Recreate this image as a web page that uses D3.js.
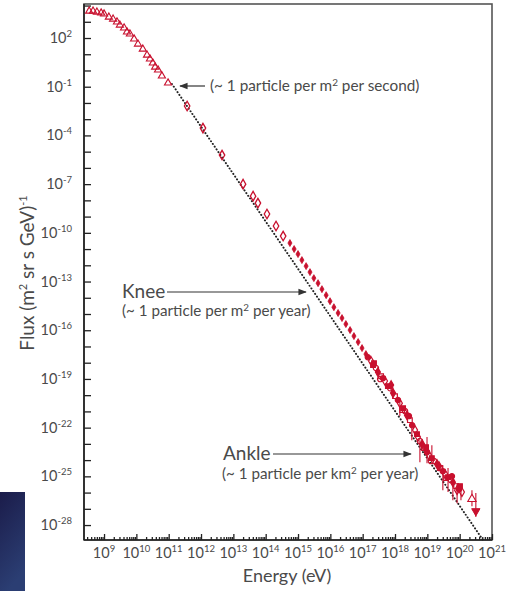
<!DOCTYPE html>
<html lang="en">
<head>
<meta charset="UTF-8">
<title>Cosmic Ray Flux</title>
<script src="https://d3js.org/d3.v7.min.js"></script>
<style>
    body { margin: 0; background: #fff; }
    svg { display: block; font-family: Lato, 'Noto Sans', sans-serif; }
    .lbl { fill: #4a4a4a; }
    .axis line { stroke: #222; stroke-width: 1.3px; }
    .axis path { display: none; }
</style>
</head>
<body>
<div id="chart"></div>
<script>
// axis ranges (eV, flux)
const xDomain = [2.4e8, 1e21];
const yDomain = [1.245e4, 1.2e-29];
const xLabelExp = [9, 10, 11, 12, 13, 14, 15, 16, 17, 18, 19, 20, 21];
const yLabelExp = [2, -1, -4, -7, -10, -13, -16, -19, -22, -25, -28];

// all data as log10 values
const triLogE = [8.54, 8.66, 8.78, 8.91, 9.00, 9.15, 9.28, 9.40, 9.49, 9.62, 9.71, 9.80, 9.93, 10.05, 10.20, 10.33, 10.42, 10.51, 10.58, 10.67, 10.79, 10.98];
const triLogF = [3.66, 3.66, 3.60, 3.54, 3.48, 3.29, 3.17, 2.99, 2.80, 2.62, 2.37, 2.25, 1.94, 1.63, 1.32, 0.95, 0.71, 0.46, 0.21, 0.03, -0.34, -0.77];

const diaLogE = [11.57, 12.06, 12.65, 13.30, 13.61, 13.76, 14.04, 14.32, 14.54];
const diaLogF = [-2.19, -3.55, -5.21, -7.00, -7.74, -8.17, -8.84, -9.58, -10.20];

const kneeLogE = [14.75, 14.88, 15.00, 15.12, 15.25, 15.37, 15.49, 15.62, 15.74, 15.87, 15.99, 16.11, 16.24, 16.36, 16.48, 16.61, 16.73, 16.86, 16.98, 17.10];
const kneeLogF = [-10.63, -11.00, -11.31, -11.68, -12.05, -12.42, -12.79, -13.10, -13.47, -13.84, -14.21, -14.58, -14.94, -15.25, -15.62, -15.99, -16.36, -16.73, -17.10, -17.47];

const ankleLogE = [17.16, 17.26, 17.32, 17.41, 17.47, 17.57, 17.63, 17.69, 17.78, 17.85, 17.94, 18.00, 18.09, 18.15, 18.25, 18.31, 18.37, 18.46, 18.53, 18.62, 18.68, 18.77, 18.84, 18.90, 18.99, 19.05, 19.14, 19.21, 19.30, 19.39, 19.48, 19.55, 19.64, 19.73, 19.79, 19.89, 19.98, 20.07,
                   17.35, 17.54, 17.88, 18.22, 18.43, 18.71, 18.96, 19.11, 19.36, 19.58, 19.76, 19.92, 20.01];
const ankleLogF = [-17.66, -17.90, -18.15, -18.33, -18.58, -18.83, -18.95, -19.13, -19.44, -19.57, -19.87, -20.06, -20.30, -20.49, -20.80, -20.98, -21.23, -21.54, -21.85, -22.15, -22.40, -22.83, -23.02, -23.26, -23.51, -23.69, -23.88, -24.06, -24.25, -24.49, -24.68, -24.86, -25.05, -25.23, -25.36, -25.60, -25.79, -25.97,
                   -18.03, -19.01, -19.38, -20.92, -21.29, -22.58, -23.20, -24.06, -24.37, -25.11, -24.99, -25.85, -25.60];

// error bars: energy, low, high
const errLogE = [18.15, 18.52, 18.77, 18.99, 19.14, 19.48, 19.64, 19.79, 19.92, 20.04];
const errLogLo = [-21.29, -22.77, -24.13, -24.19, -24.12, -25.85, -25.97, -26.47, -26.65, -26.47];
const errLogHi = [-20.30, -21.84, -22.77, -22.58, -23.08, -24.31, -24.49, -25.23, -25.48, -25.66];

// last two points
const endLogE = [20.38, 20.50];
const endLogF = [-26.40, -27.14];
const endLogLo = [-26.84, -27.51];
const endLogHi = [-25.85, -26.03];

// dotted power law
const fitLogE = [11.1, 20.72];
const fitLogF = [-0.83, -28.92];

const width = 506, height = 591;
const mLeft = 84, mRight = 492, mTop = 4, mBottom = 540;
const red = "#c8102e";
const p10 = v => Math.pow(10, v);

const svg = d3.select("#chart").append("svg")
    .attr("width", width).attr("height", height);

const defs = svg.append("defs");
const grad = defs.append("linearGradient").attr("id", "blue")
    .attr("x1", 0).attr("y1", 0).attr("x2", 0.3).attr("y2", 1);
grad.append("stop").attr("offset", 0).attr("stop-color", "#1b1c4a");
grad.append("stop").attr("offset", 1).attr("stop-color", "#2b3e73");
defs.append("marker").attr("id", "head")
    .attr("viewBox", "0 0 10 10").attr("refX", 9).attr("refY", 5)
    .attr("markerWidth", 7).attr("markerHeight", 7).attr("orient", "auto")
    .append("path").attr("d", "M0,1 L10,5 L0,9 Z").attr("fill", "#333");

svg.append("rect").attr("x", 0).attr("y", 492).attr("width", 25).attr("height", 99)
    .attr("fill", "url(#blue)");

const x = d3.scaleLog().domain(xDomain).range([mLeft, mRight]);
const y = d3.scaleLog().domain(yDomain).range([mTop, mBottom]);

// frame
svg.append("rect").attr("x", mLeft).attr("y", mTop)
    .attr("width", mRight - mLeft).attr("height", mBottom - mTop)
    .attr("fill", "none").attr("stroke", "#555").attr("stroke-width", 1.6);

// y ticks every decade, pointing inward
const yDecades = d3.range(4, -29, -1).map(p10);
svg.append("g").attr("class", "axis").attr("transform", `translate(${mLeft},0)`)
    .call(d3.axisLeft(y).tickValues(yDecades).tickSize(-7).tickFormat(""));

// x ticks: decades plus 2..9 minors
const xMajor = d3.range(9, 22).map(p10);
const xMinor = [];
d3.range(8, 21).forEach(n => d3.range(2, 10).forEach(k => {
    const v = k * p10(n);
    if (v > xDomain[0] && v < xDomain[1]) xMinor.push(v);
}));
svg.append("g").attr("class", "axis").attr("transform", `translate(0,${mBottom})`)
    .call(d3.axisBottom(x).tickValues(xMajor).tickSize(-6).tickFormat(""));
svg.append("g").attr("class", "axis").attr("transform", `translate(0,${mBottom})`)
    .call(d3.axisBottom(x).tickValues(xMinor).tickSize(-3).tickFormat(""));

svg.append("line").attr("x1", mLeft).attr("x2", mLeft).attr("y1", mTop).attr("y2", mBottom)
    .attr("stroke", "#222").attr("stroke-width", 1.6);
svg.append("line").attr("x1", mLeft).attr("x2", mRight).attr("y1", mBottom).attr("y2", mBottom)
    .attr("stroke", "#222").attr("stroke-width", 1.6);

// tick labels with superscripts
function power(sel, e, supSize) {
    sel.append("tspan").text("10");
    sel.append("tspan").attr("dy", -6).attr("font-size", supSize).text(e < 0 ? "-" + (-e) : e);
}
yLabelExp.forEach(e => {
    svg.append("text").attr("class", "lbl").attr("x", 72).attr("y", y(p10(e)) + 5)
        .attr("text-anchor", "end").attr("font-size", 14.5)
        .call(power, e, 9.5);
});
xLabelExp.forEach(e => {
    svg.append("text").attr("class", "lbl").attr("x", x(p10(e))).attr("y", 558)
        .attr("text-anchor", "middle").attr("font-size", 14.5)
        .call(power, e, 9.5);
});

// axis titles
svg.append("text").attr("class", "lbl").attr("x", 287).attr("y", 582)
    .attr("text-anchor", "middle").attr("font-size", 18).text("Energy (eV)");
const yt = svg.append("text").attr("class", "lbl")
    .attr("transform", "translate(34,273) rotate(-90)")
    .attr("text-anchor", "middle").attr("font-size", 19);
yt.append("tspan").text("Flux (m");
yt.append("tspan").attr("dy", -7).attr("font-size", 11).text("2");
yt.append("tspan").attr("dy", 7).text(" sr s GeV)");
yt.append("tspan").attr("dy", -7).attr("font-size", 11).text("-1");

// dotted power law
svg.append("path")
    .datum(fitLogE.map((e, i) => [p10(e), p10(fitLogF[i])]))
    .attr("d", d3.line().x(d => x(d[0])).y(d => y(d[1])))
    .attr("fill", "none").attr("stroke", "#222").attr("stroke-width", 2)
    .attr("stroke-linecap", "round").attr("stroke-dasharray", "0.1 3.2");

// data marks
const sym = (type, size) => d3.symbol().type(type).size(size)();

svg.append("g").selectAll("path")
    .data(triLogE.map((e, i) => [p10(e), p10(triLogF[i])]))
    .join("path")
    .attr("transform", d => `translate(${x(d[0])},${y(d[1])})`)
    .attr("d", sym(d3.symbolTriangle, 22))
    .attr("fill", "none").attr("stroke", red).attr("stroke-width", 1.1);

svg.append("g").selectAll("path")
    .data(diaLogE.map((e, i) => [p10(e), p10(diaLogF[i])]))
    .join("path")
    .attr("transform", d => `translate(${x(d[0])},${y(d[1])})`)
    .attr("d", sym(d3.symbolDiamond, 26))
    .attr("fill", "none").attr("stroke", red).attr("stroke-width", 1.3);

svg.append("g").selectAll("path")
    .data(kneeLogE.map((e, i) => [p10(e), p10(kneeLogF[i])]))
    .join("path")
    .attr("transform", d => `translate(${x(d[0])},${y(d[1])})`)
    .attr("d", sym(d3.symbolDiamond, 14))
    .attr("fill", red).attr("stroke", red).attr("stroke-width", 0.8);

svg.append("g").selectAll("line")
    .data(errLogE.map((e, i) => [p10(e), p10(errLogLo[i]), p10(errLogHi[i])]))
    .join("line")
    .attr("x1", d => x(d[0])).attr("x2", d => x(d[0]))
    .attr("y1", d => y(d[1])).attr("y2", d => y(d[2]))
    .attr("stroke", red).attr("stroke-width", 1.1);

const ankleShapes = [d3.symbolCircle, d3.symbolDiamond, d3.symbolSquare];
svg.append("g").selectAll("path")
    .data(ankleLogE.map((e, i) => [p10(e), p10(ankleLogF[i]), i]))
    .join("path")
    .attr("transform", d => `translate(${x(d[0])},${y(d[1])})`)
    .attr("d", d => sym(ankleShapes[d[2] % 3], 22))
    .attr("fill", d => d[2] % 2 === 0 ? red : "none")
    .attr("stroke", red).attr("stroke-width", 1.2);

svg.append("g").selectAll("line")
    .data(endLogE.map((e, i) => [p10(e), p10(endLogLo[i]), p10(endLogHi[i])]))
    .join("line")
    .attr("x1", d => x(d[0])).attr("x2", d => x(d[0]))
    .attr("y1", d => y(d[1])).attr("y2", d => y(d[2]))
    .attr("stroke", red).attr("stroke-width", 1.1);
svg.append("path")
    .attr("transform", `translate(${x(p10(endLogE[0]))},${y(p10(endLogF[0]))})`)
    .attr("d", sym(d3.symbolTriangle, 30))
    .attr("fill", "#fff").attr("stroke", red).attr("stroke-width", 1.1);
svg.append("path")
    .attr("transform", `translate(${x(p10(endLogE[1]))},${y(p10(endLogF[1]))}) rotate(180)`)
    .attr("d", sym(d3.symbolTriangle, 30))
    .attr("fill", red).attr("stroke", red).attr("stroke-width", 1);

// annotations
function arrow(x1, x2, yy) {
    svg.append("line").attr("x1", x1).attr("x2", x2).attr("y1", yy).attr("y2", yy)
        .attr("stroke", "#333").attr("stroke-width", 1.2).attr("marker-end", "url(#head)");
}
function note(tx, ty, size, a, sup, b) {
    const t = svg.append("text").attr("class", "lbl").attr("x", tx).attr("y", ty).attr("font-size", size);
    t.append("tspan").text(a);
    t.append("tspan").attr("dy", -5).attr("font-size", size * 0.65).text(sup);
    t.append("tspan").attr("dy", 5).text(b);
}
arrow(205, 180, 86);
note(210, 91, 15.3, "(~ 1 particle per m", "2", " per second)");

svg.append("text").attr("class", "lbl").attr("x", 122).attr("y", 298)
    .attr("font-size", 19).text("Knee");
arrow(167, 306, 292);
note(122, 316, 15.2, "(~ 1 particle per m", "2", " per year)");

svg.append("text").attr("class", "lbl").attr("x", 223).attr("y", 460)
    .attr("font-size", 19).text("Ankle");
arrow(273, 411, 454);
note(222, 479, 15.2, "(~ 1 particle per km", "2", " per year)");
</script>
</body>
</html>
